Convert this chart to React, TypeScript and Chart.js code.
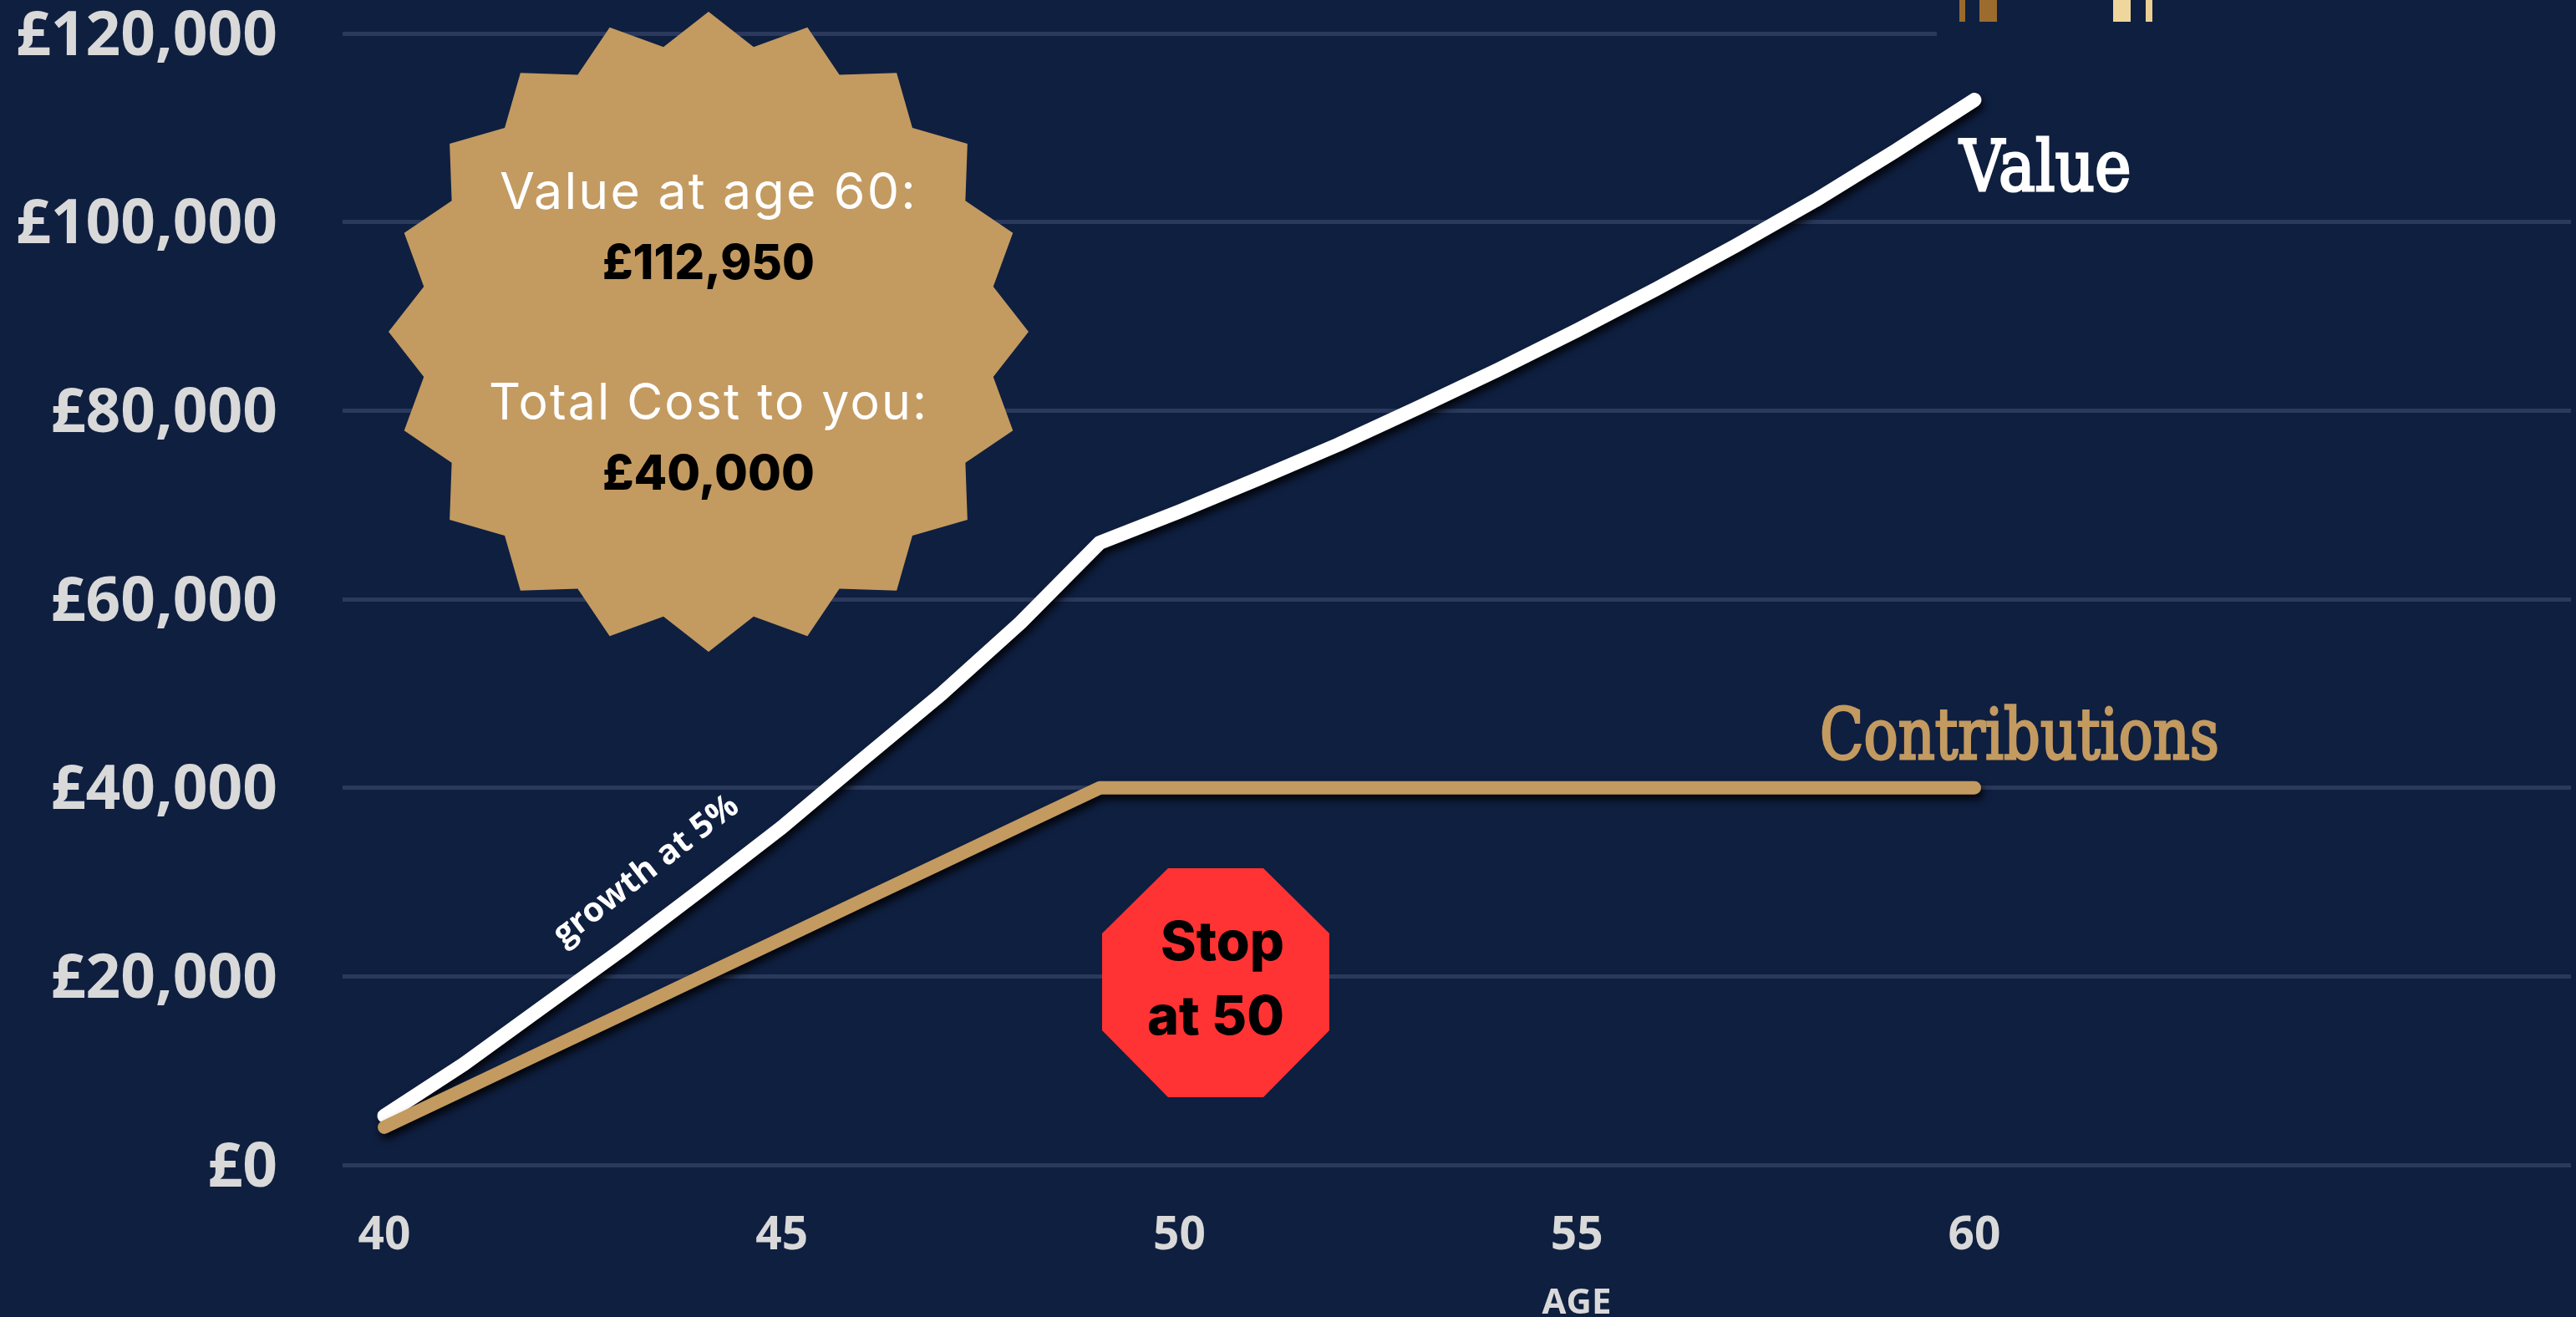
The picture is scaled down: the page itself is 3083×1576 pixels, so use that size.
import React, { useEffect, useRef } from "react";
import { Chart, registerables } from "chart.js";

Chart.register(...registerables);

const ages = [40, 41, 42, 43, 44, 45, 46, 47, 48, 49, 50, 51, 52, 53, 54, 55, 56, 57, 58, 59, 60];
const contributions = [4000, 8000, 12000, 16000, 20000, 24000, 28000, 32000, 36000, 40000, 40000, 40000, 40000, 40000, 40000, 40000, 40000, 40000, 40000, 40000, 40000];
const fundValue = [5200, 10700, 16800, 22900, 29300, 35800, 42900, 49900, 57500, 66000, 69300, 72800, 76400, 80300, 84300, 88500, 92900, 97500, 102300, 107500, 112950];
const ageTicks = [40, 45, 50, 55, 60];

const NAVY = "#0F1F40";
const GOLD = "#C39A60";
const TICK_GREY = "#D9D9D9";
const HEADING_FONT = "Inter";
const TICK_FONT = '"Open Sans"';
const SLAB_FONT = '"DejaVu Serif"';

function drawText(
  ctx: CanvasRenderingContext2D,
  text: string,
  x: number,
  y: number,
  font: string,
  color: string,
  maxWidth?: number,
  spacing = 0,
  stroke = 0,
) {
  ctx.font = font;
  ctx.fillStyle = color;
  ctx.textAlign = "center";
  ctx.textBaseline = "alphabetic";
  (ctx as any).letterSpacing = `${spacing}px`;
  if (maxWidth) ctx.fillText(text, x, y, maxWidth);
  else ctx.fillText(text, x, y);
  if (stroke > 0) {
    ctx.strokeStyle = color;
    ctx.lineWidth = stroke;
    if (maxWidth) ctx.strokeText(text, x, y, maxWidth);
    else ctx.strokeText(text, x, y);
  }
  (ctx as any).letterSpacing = "0px";
}

// Twenty-pointed badge holding the headline figures.
function drawBadge(ctx: CanvasRenderingContext2D) {
  const cx = 848, cy = 397, outer = 383, inner = 345, tips = 20;
  ctx.beginPath();
  for (let i = 0; i < tips * 2; i++) {
    const r = i % 2 === 0 ? outer : inner;
    const a = -Math.PI / 2 + (i * Math.PI) / tips;
    const px = cx + r * Math.cos(a);
    const py = cy + r * Math.sin(a);
    if (i === 0) ctx.moveTo(px, py);
    else ctx.lineTo(px, py);
  }
  ctx.closePath();
  ctx.fillStyle = GOLD;
  ctx.fill();
  drawText(ctx, "Value at age 60:", 848, 250, `400 61px ${HEADING_FONT}`, "#FFFFFF", 500, 2.2);
  drawText(ctx, "£112,950", 848, 334, `800 58px ${HEADING_FONT}`, "#000000", 254);
  drawText(ctx, "Total Cost to you:", 848, 502, `400 61px ${HEADING_FONT}`, "#FFFFFF", 526, 2.2);
  drawText(ctx, "£40,000", 848, 586, `800 58px ${HEADING_FONT}`, "#000000", 254);
}

// Octagonal stop sign marking the end of contributions.
function drawStopSign(ctx: CanvasRenderingContext2D) {
  const corners = [[1398, 1039], [1512, 1039], [1591, 1117], [1591, 1233], [1512, 1313], [1398, 1313], [1319, 1233], [1319, 1117]];
  ctx.beginPath();
  corners.forEach(([x, y], i) => (i === 0 ? ctx.moveTo(x, y) : ctx.lineTo(x, y)));
  ctx.closePath();
  ctx.fillStyle = "#FF3333";
  ctx.fill();
  drawText(ctx, "Stop", 1463, 1149, `800 65px ${HEADING_FONT}`, "#000000", 148);
  drawText(ctx, "at 50", 1455, 1238, `800 65px ${HEADING_FONT}`, "#000000", 164);
}

// Strip of the logo that sits over the top right of the plot.
function drawLogoStrip(ctx: CanvasRenderingContext2D) {
  ctx.fillStyle = NAVY;
  ctx.fillRect(2318, 0, 765, 60);
  const bars: [number, number, string][] = [
    [2345, 7, "#9A6A2C"],
    [2369, 21, "#9C6B2E"],
    [2529, 21, "#EFD69C"],
    [2568, 8, "#EBCF92"],
  ];
  bars.forEach(([x, w, color]) => {
    ctx.fillStyle = color;
    ctx.fillRect(x, 0, w, 26);
  });
}

const annotations = {
  id: "annotations",
  beforeDraw(chart: Chart) {
    // Open Sans sits high on its middle baseline, so lower the value labels a little.
    const yScale: any = chart.scales.y;
    yScale.getLabelItems(chart.chartArea).forEach((item: any) => {
      if (!item.options.nudged) {
        item.options.translation[1] += 5;
        item.options.nudged = true;
      }
    });
  },
  beforeDatasetsDraw(chart: Chart) {
    drawLogoStrip(chart.ctx);
  },
  beforeDatasetDraw(chart: Chart) {
    const ctx = chart.ctx;
    ctx.save();
    ctx.shadowColor = "rgba(0,0,0,0.85)";
    ctx.shadowBlur = 10;
    ctx.shadowOffsetX = 3;
    ctx.shadowOffsetY = 6;
  },
  afterDatasetDraw(chart: Chart) {
    chart.ctx.restore();
  },
  afterDatasetsDraw(chart: Chart) {
    const ctx = chart.ctx;
    ctx.save();
    drawBadge(ctx);
    drawStopSign(ctx);
    drawText(ctx, "Value", 2448, 228, `400 84px ${SLAB_FONT}`, "#FFFFFF", 205, 0, 3);
    drawText(ctx, "Contributions", 2417, 908, `400 84px ${SLAB_FONT}`, GOLD, 478, 0, 3);
    drawText(ctx, "AGE", 1887, 1572, `700 42px ${TICK_FONT}`, TICK_GREY);
    ctx.translate(772, 1040);
    ctx.rotate((-37.7 * Math.PI) / 180);
    drawText(ctx, "growth at 5%", 0, 14, `700 40.5px ${TICK_FONT}`, "#FFFFFF");
    ctx.restore();
  },
};

export default function App() {
  const canvasRef = useRef<HTMLCanvasElement>(null);

  useEffect(() => {
    const canvas = canvasRef.current;
    if (!canvas) return;
    const chart = new Chart(canvas, {
      type: "line",
      data: {
        datasets: [
          {
            label: "Contributions",
            data: ages.map((age, i) => ({ x: age, y: contributions[i] })),
            borderColor: GOLD,
            borderWidth: 16,
            borderCapStyle: "round",
            borderJoinStyle: "round",
            pointRadius: 0,
            tension: 0,
          },
          {
            label: "Value",
            data: ages.map((age, i) => ({ x: age, y: fundValue[i] })),
            borderColor: "#FFFFFF",
            borderWidth: 17,
            borderCapStyle: "round",
            borderJoinStyle: "round",
            pointRadius: 0,
            tension: 0,
          },
        ],
      },
      options: {
        responsive: false,
        animation: false,
        devicePixelRatio: 1,
        layout: { padding: { top: 40, right: 6, left: 0, bottom: 0 } },
        plugins: { legend: { display: false }, tooltip: { enabled: false }, title: { display: false } },
        scales: {
          x: {
            type: "linear",
            min: 39.4745,
            max: 67.504,
            afterBuildTicks(scale: any) {
              scale.ticks = ageTicks.map((value) => ({ value }));
            },
            afterFit(scale: any) {
              scale.height = 182;
              scale.paddingLeft = 0;
              scale.paddingRight = 0;
            },
            grid: { display: false, drawTicks: false },
            border: { display: false },
            ticks: {
              autoSkip: false,
              maxRotation: 0,
              padding: 52,
              color: TICK_GREY,
              font: { family: "Open Sans", size: 55, weight: "700" },
              callback: (v: any) => String(v),
            },
          },
          y: {
            min: 0,
            max: 120000,
            afterFit(scale: any) {
              scale.width = 410;
              scale.paddingTop = 0;
              scale.paddingBottom = 0;
            },
            grid: { color: "#2A395C", lineWidth: 5, drawTicks: false },
            border: { display: false },
            ticks: {
              stepSize: 20000,
              padding: 78,
              color: TICK_GREY,
              font: { family: "Open Sans", size: 73, weight: "700" },
              callback: (v: any) => "£" + Number(v).toLocaleString("en-GB"),
            },
          },
        },
      },
      plugins: [annotations],
    } as any);
    return () => chart.destroy();
  }, []);

  return (
    <div style={{ position: "fixed", left: 0, top: 0, width: 3083, height: 1576, background: NAVY, overflow: "hidden" }}>
      <canvas ref={canvasRef} width={3083} height={1576} style={{ display: "block" }} />
    </div>
  );
}
